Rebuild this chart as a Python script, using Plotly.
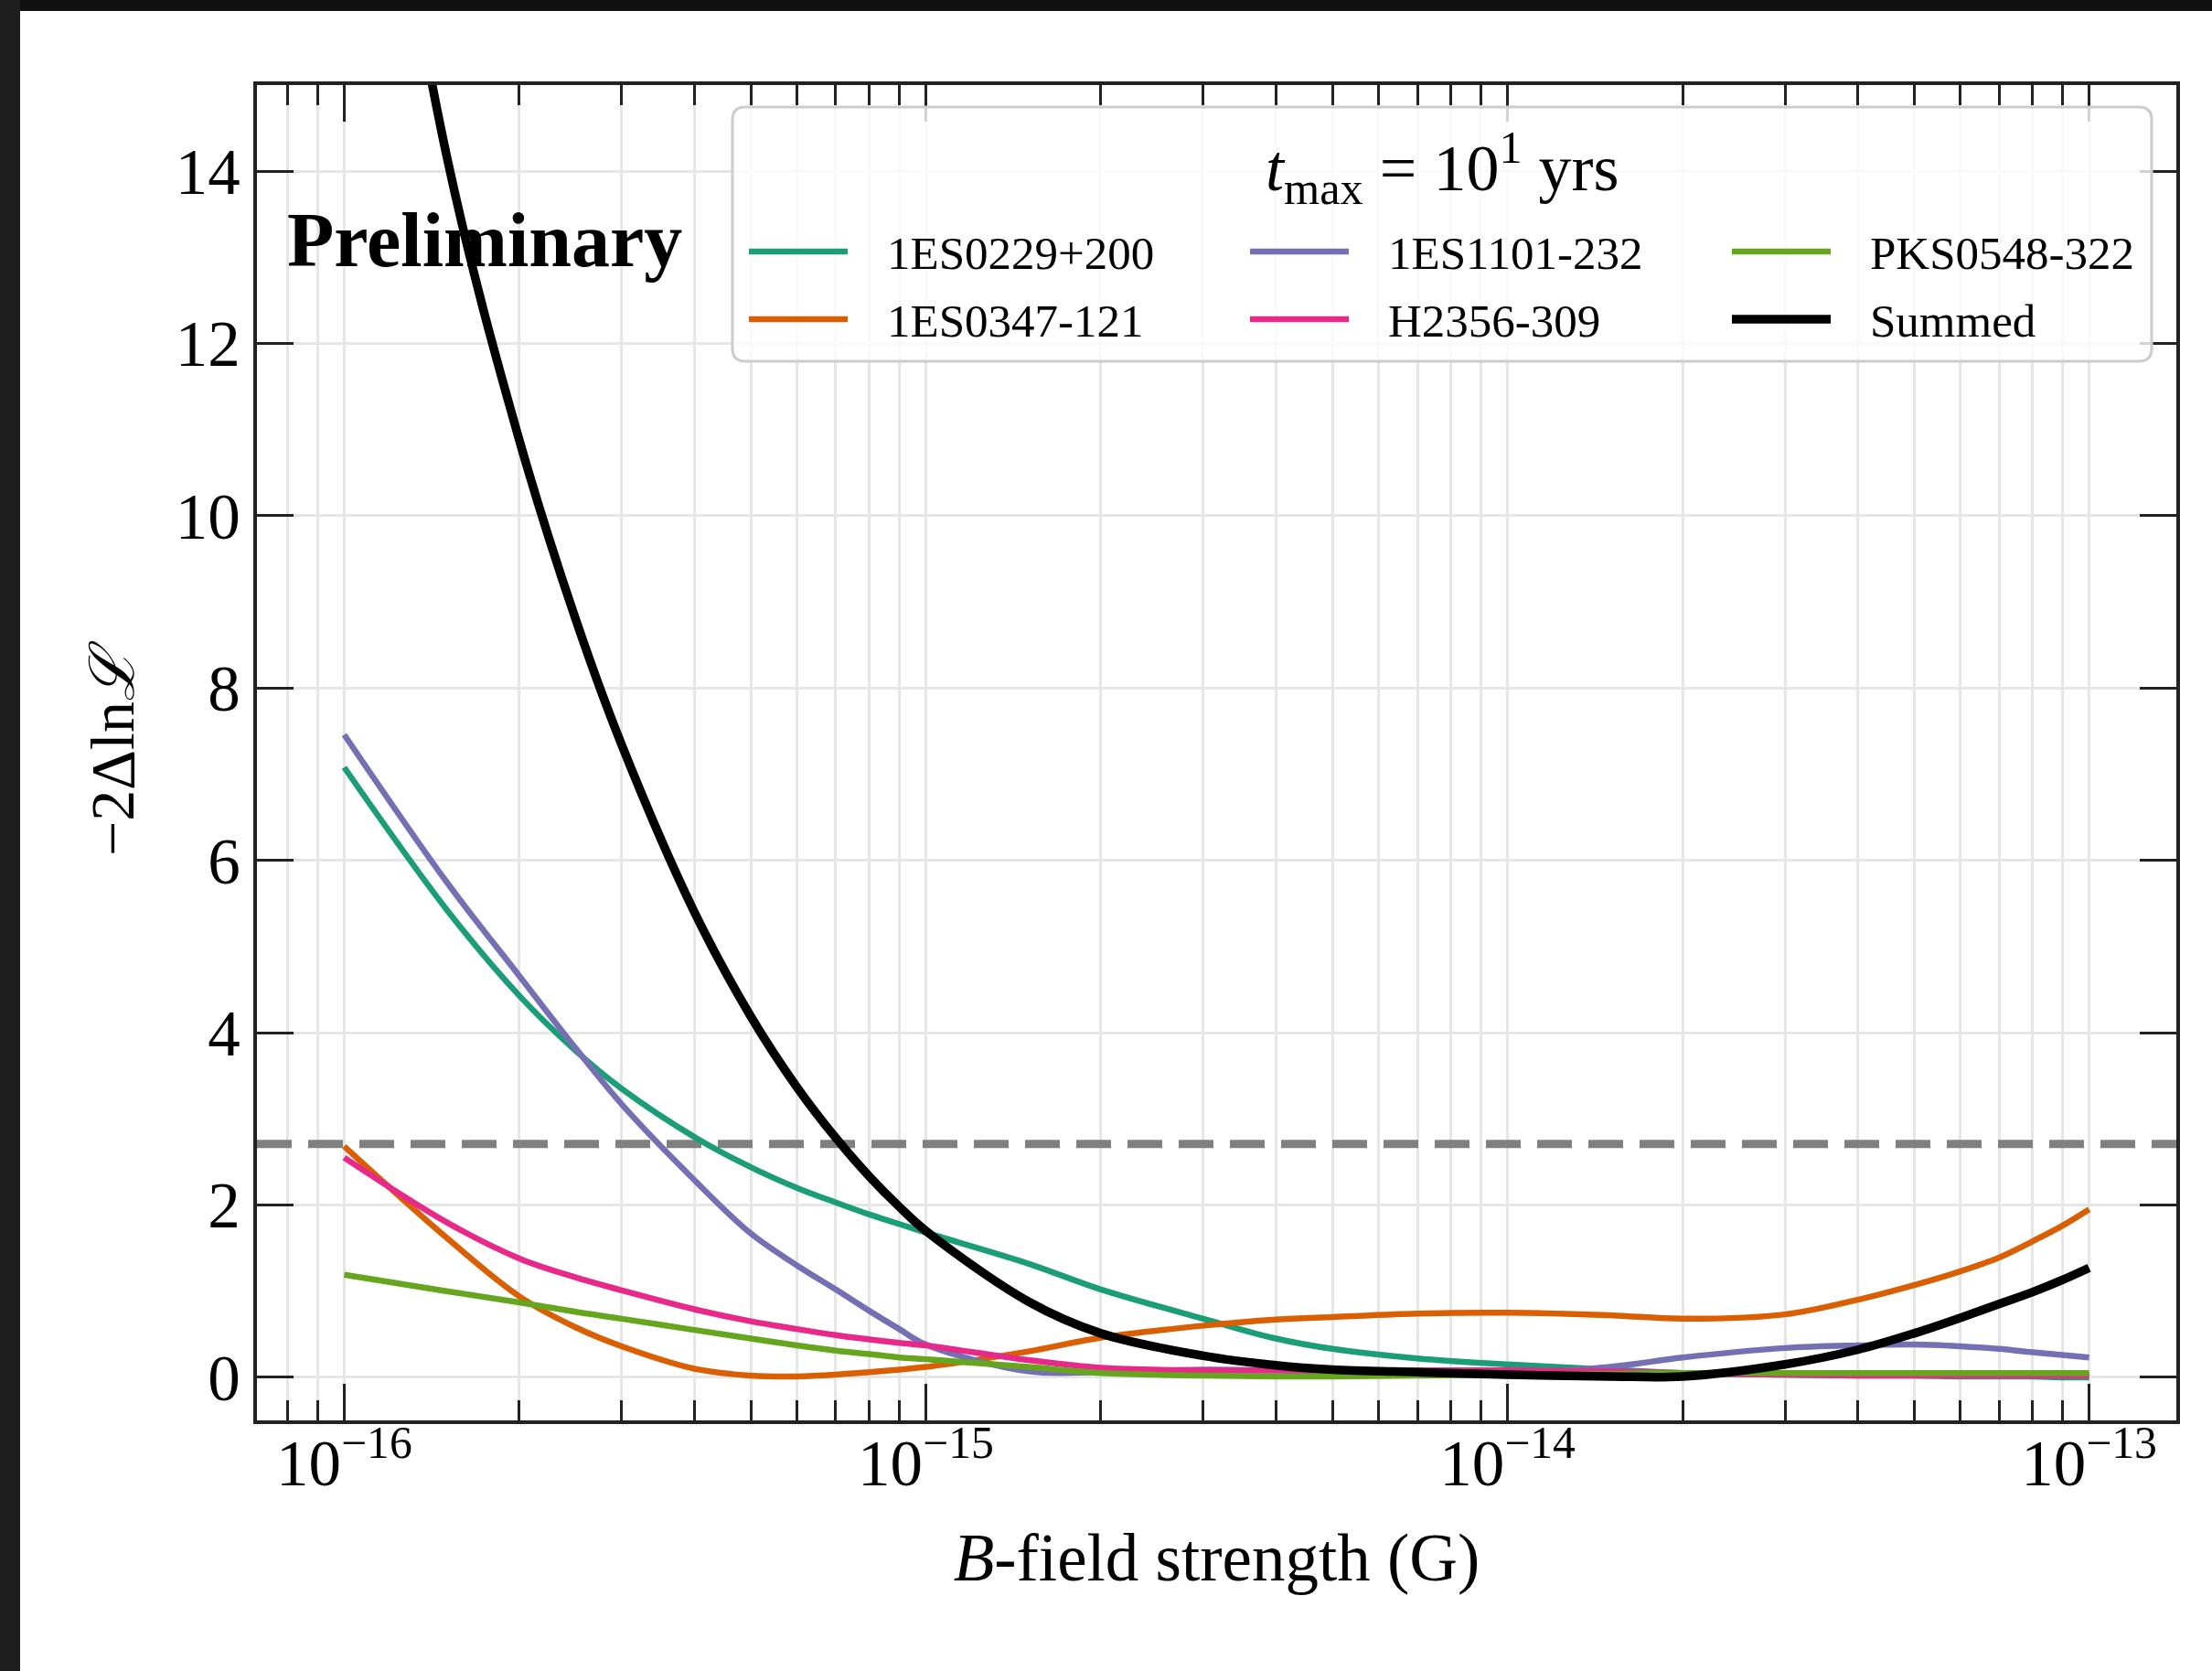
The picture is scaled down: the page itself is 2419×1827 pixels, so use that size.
import plotly.graph_objects as go

# ---------------- data ----------------
B_FIELD = [1.0e-16, 1.5e-16, 2e-16, 2.5e-16, 3e-16, 4e-16, 5e-16, 6e-16, 7e-16, 8e-16, 9e-16,
           1e-15, 1.5e-15, 2e-15, 3e-15, 4e-15, 5e-15, 7e-15,
           1e-14, 1.5e-14, 2e-14, 3e-14, 4e-14, 5e-14, 6e-14, 7e-14, 8e-14, 9e-14, 1e-13]

SRC_1ES0229 = [7.08, 5.43, 4.43, 3.79, 3.35, 2.79, 2.44, 2.20, 2.03, 1.89, 1.78,
               1.68, 1.32, 1.02, 0.68, 0.45, 0.33, 0.22,
               0.15, 0.09, 0.05, 0.03, 0.02, 0.02, 0.01, 0.01, 0.01, 0.00, 0.00]
SRC_1ES0347 = [2.68, 1.62, 0.94, 0.58, 0.36, 0.10, 0.02, 0.01, 0.03, 0.06, 0.09,
               0.12, 0.30, 0.46, 0.60, 0.67, 0.70, 0.74,
               0.75, 0.72, 0.68, 0.73, 0.90, 1.07, 1.23, 1.39, 1.58, 1.76, 1.95]
SRC_1ES1101 = [7.46, 5.75, 4.66, 3.82, 3.17, 2.29, 1.67, 1.30, 1.02, 0.77, 0.56,
               0.38, 0.07, 0.06, 0.09, 0.08, 0.06, 0.03,
               0.04, 0.12, 0.23, 0.34, 0.37, 0.38, 0.36, 0.33, 0.29, 0.26, 0.23]
SRC_H2356 = [2.55, 1.80, 1.38, 1.16, 1.01, 0.79, 0.65, 0.56, 0.49, 0.44, 0.40,
             0.37, 0.20, 0.11, 0.08, 0.08, 0.08, 0.08,
             0.08, 0.07, 0.05, 0.03, 0.02, 0.02, 0.02, 0.02, 0.02, 0.02, 0.02]
SRC_PKS0548 = [1.19, 1.00, 0.87, 0.76, 0.68, 0.55, 0.45, 0.37, 0.31, 0.27, 0.23,
               0.21, 0.12, 0.05, 0.02, 0.01, 0.01, 0.02,
               0.03, 0.04, 0.05, 0.05, 0.05, 0.05, 0.05, 0.05, 0.05, 0.05, 0.05]
SUMMED = [20.97, 14.18, 10.88, 8.80, 7.34, 5.40, 4.19, 3.37, 2.78, 2.33, 1.98,
          1.70, 0.88, 0.51, 0.25, 0.14, 0.09, 0.06,
          0.03, 0.01, 0.01, 0.15, 0.32, 0.51, 0.69, 0.85, 0.99, 1.13, 1.27]

SERIES_NAMES = ["1ES0229+200", "1ES0347-121", "1ES1101-232", "H2356-309", "PKS0548-322", "Summed"]
SERIES_VALUES = [SRC_1ES0229, SRC_1ES0347, SRC_1ES1101, SRC_H2356, SRC_PKS0548, SUMMED]
SERIES_COLORS = ["#1b9e77", "#d95f02", "#7570b3", "#e7298a", "#66a61e", "#000000"]
LEGEND_TITLE = "<i>t</i><sub>max</sub> = 10<sup>1</sup> yrs"

THRESHOLD = 2.71

X_RANGE_LOG = [-16.15, -12.85]
Y_RANGE = [-0.5, 15]
X_TICK_VALS = [1e-16, 1e-15, 1e-14, 1e-13]
X_TICK_TEXT = ["10<sup>\u221216</sup>", "10<sup>\u221215</sup>", "10<sup>\u221214</sup>", "10<sup>\u221213</sup>"]
Y_TICK_VALS = [0, 2, 4, 6, 8, 10, 12, 14]
Y_TICK_TEXT = ["0", "2", "4", "6", "8", "10", "12", "14"]

# ---------------- layout geometry (pixels) ----------------
W, H = 2419, 1827
ML, MR, MT, MB = 281, 39, 93, 274
PW, PH = W - ML - MR, H - MT - MB


def px_x(px):
    return (px - ML) / PW


def px_y(py):
    return (H - MB - py) / PH


FONT = "Liberation Serif, Times New Roman, serif"
AXC = "#222222"
GRID = "#e6e6e6"

minor_vals = [d * 10.0 ** e for e in range(-17, -12) for d in range(2, 10)]

fig = go.Figure()

# horizontal threshold line spanning the full axis width (drawn under the curves)
fig.add_trace(go.Scatter(
    x=[10 ** X_RANGE_LOG[0], 10 ** X_RANGE_LOG[1]], y=[THRESHOLD, THRESHOLD],
    mode="lines", showlegend=False, hoverinfo="skip",
    line=dict(color="#808080", width=9, dash="38px,18px"),
))

for name, vals, col in zip(SERIES_NAMES, SERIES_VALUES, SERIES_COLORS):
    fig.add_trace(go.Scatter(
        x=B_FIELD, y=vals, name=name, mode="lines", showlegend=False,
        line=dict(color=col, width=9.5 if name == "Summed" else 6.5, shape="spline", smoothing=1.0),
    ))

axis_common = dict(
    ticks="inside", tickwidth=3, tickcolor=AXC, ticklen=40,
    showline=True, linewidth=4, linecolor=AXC, mirror="allticks",
    showgrid=True, gridcolor=GRID, gridwidth=3, zeroline=False,
    tickfont=dict(family=FONT, size=71, color="black"),
)

fig.update_xaxes(
    type="log", range=X_RANGE_LOG,
    tickmode="array", tickvals=X_TICK_VALS, ticktext=X_TICK_TEXT,
    minor=dict(tickmode="array", tickvals=minor_vals, ticks="inside", ticklen=22, tickwidth=3,
               tickcolor=AXC, showgrid=True, gridcolor=GRID, gridwidth=3),
    title=dict(text="<i>B</i>-field strength (G)", font=dict(family=FONT, size=73, color="black"), standoff=40),
    ticklabelstandoff=-18,
    **axis_common,
)
fig.update_yaxes(
    range=Y_RANGE,
    tickmode="array", tickvals=Y_TICK_VALS, ticktext=Y_TICK_TEXT,
    title=dict(text="\u22122\u0394ln<i>\u2112</i>", font=dict(family=FONT, size=68, color="black"), standoff=24),
    ticklabelstandoff=0,
    **axis_common,
)

fig.add_annotation(text="<b>Preliminary</b>", xref="paper", yref="paper",
                   x=px_x(312), y=px_y(262), xanchor="left", yanchor="middle", showarrow=False,
                   font=dict(family=FONT, size=84, color="black"))

# ---------------- legend (matplotlib style: 3 columns, filled column-wise) ----------------
LX0, LX1, LY0, LY1, LR = 801, 2353, 117, 395, 14


def rounded_rect(x0, y0, x1, y1, r):
    pts = []
    pts.append(f"M{px_x(x0 + r)},{px_y(y0)}")
    pts.append(f"L{px_x(x1 - r)},{px_y(y0)}")
    pts.append(f"Q{px_x(x1)},{px_y(y0)} {px_x(x1)},{px_y(y0 + r)}")
    pts.append(f"L{px_x(x1)},{px_y(y1 - r)}")
    pts.append(f"Q{px_x(x1)},{px_y(y1)} {px_x(x1 - r)},{px_y(y1)}")
    pts.append(f"L{px_x(x0 + r)},{px_y(y1)}")
    pts.append(f"Q{px_x(x0)},{px_y(y1)} {px_x(x0)},{px_y(y1 - r)}")
    pts.append(f"L{px_x(x0)},{px_y(y0 + r)}")
    pts.append(f"Q{px_x(x0)},{px_y(y0)} {px_x(x0 + r)},{px_y(y0)}")
    return " ".join(pts) + " Z"


fig.add_shape(type="path", xref="paper", yref="paper", path=rounded_rect(LX0, LY0, LX1, LY1, LR),
              fillcolor="rgba(255,255,255,0.8)", line=dict(color="#cccccc", width=3), layer="above")

fig.add_annotation(text=LEGEND_TITLE, xref="paper", yref="paper", x=px_x((LX0 + LX1) / 2), y=px_y(183),
                   xanchor="center", yanchor="middle", showarrow=False,
                   font=dict(family=FONT, size=72, color="black"))

COL_LINE_X = [819, 1367, 1894]
ROW_Y = [275, 349]
SAMPLE_LEN = 108
TEXT_GAP = 149
for i, (name, col) in enumerate(zip(SERIES_NAMES, SERIES_COLORS)):
    cx = COL_LINE_X[i // 2]
    ry = ROW_Y[i % 2]
    fig.add_shape(type="line", xref="paper", yref="paper",
                  x0=px_x(cx), x1=px_x(cx + SAMPLE_LEN), y0=px_y(ry), y1=px_y(ry),
                  line=dict(color=col, width=9.5 if name == "Summed" else 6.5), layer="above")
    fig.add_annotation(text=name, xref="paper", yref="paper", x=px_x(cx + TEXT_GAP), y=px_y(ry + 2),
                       xanchor="left", yanchor="middle", showarrow=False,
                       font=dict(family=FONT, size=51, color="black"))

# dark frame around the screenshot (top and left edges)
fig.add_shape(type="rect", xref="paper", yref="paper", x0=px_x(-10), x1=px_x(W + 10),
              y0=px_y(12), y1=px_y(-10), fillcolor="#111111", line=dict(width=0), layer="above")
fig.add_shape(type="rect", xref="paper", yref="paper", x0=px_x(-10), x1=px_x(22),
              y0=px_y(H + 10), y1=px_y(-10), fillcolor="#1f1f1f", line=dict(width=0), layer="above")

fig.update_layout(
    width=W, height=H,
    margin=dict(l=ML, r=MR, t=MT, b=MB, pad=0),
    paper_bgcolor="white", plot_bgcolor="white",
    font=dict(family=FONT, color="black"),
    showlegend=False,
)

fig.write_html("out.html")
